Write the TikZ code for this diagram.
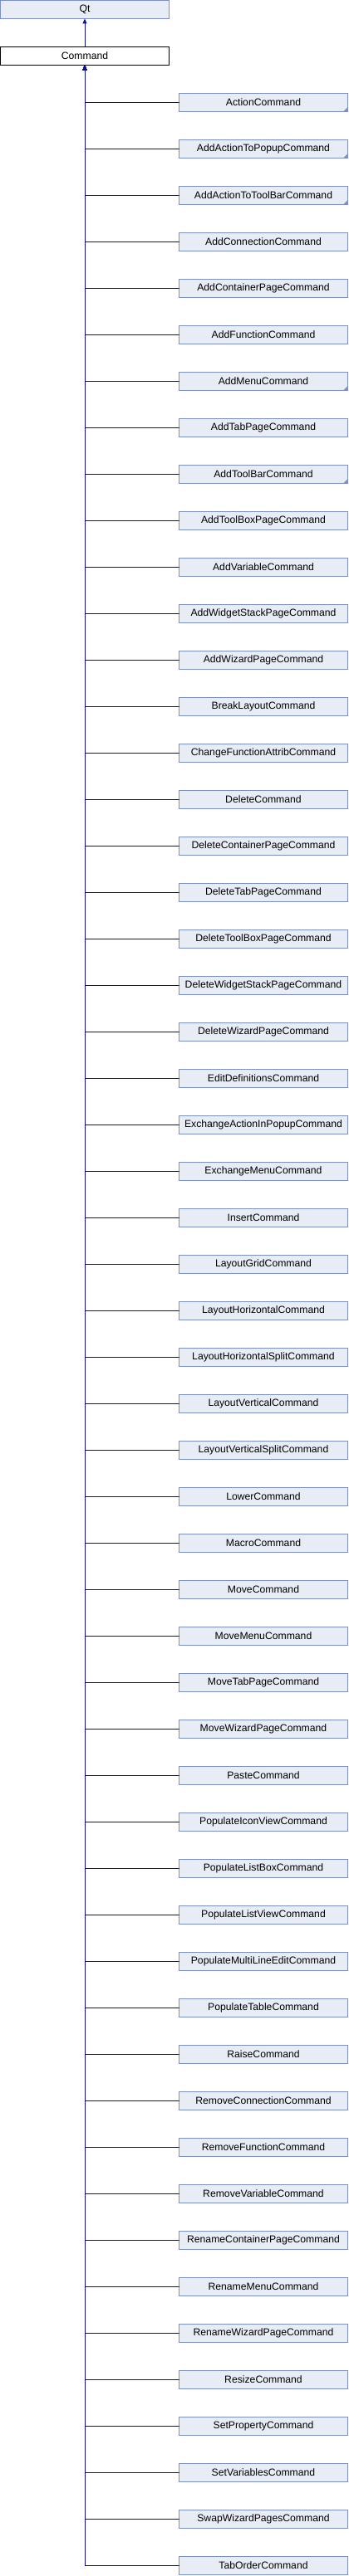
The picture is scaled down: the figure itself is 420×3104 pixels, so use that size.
\documentclass[tikz,border=0pt]{standalone}
\usepackage{fontspec}
\setmainfont{Liberation Sans}
\usetikzlibrary{arrows.meta}
\definecolor{boxfill}{HTML}{E8ECF5}
\definecolor{boxline}{HTML}{7B8FCA}
\definecolor{edgeblue}{HTML}{0E0E96}
\tikzset{
  cls/.style={draw=boxline, fill=boxfill, line width=1pt, minimum width=203pt, minimum height=22pt, inner sep=0pt, outer sep=0pt, font=\fontsize{12.2}{14}\selectfont},
  cur/.style={draw=black, fill=white, line width=1pt, minimum width=203pt, minimum height=22pt, inner sep=0pt, outer sep=0pt, font=\fontsize{12.2}{14}\selectfont},
  edge/.style={draw=edgeblue, line width=1pt, -{Triangle[length=6pt,width=5pt]}},
  fold/.style={fill=boxline, draw=none}
}
\begin{document}
\begin{tikzpicture}[x=1pt,y=1pt]
\useasboundingbox (0,0) rectangle (420,-3104);
\node[cls] (qt) at (102,-11.5) {Qt};
\node[cur] (cmd) at (102,-67.5) {Command};
\draw[edge] (cmd.north) -- (qt.south);
\foreach \n [count=\i] in {ActionCommand,AddActionToPopupCommand,AddActionToToolBarCommand,AddConnectionCommand,AddContainerPageCommand,AddFunctionCommand,AddMenuCommand,AddTabPageCommand,AddToolBarCommand,AddToolBoxPageCommand,AddVariableCommand,AddWidgetStackPageCommand,AddWizardPageCommand,BreakLayoutCommand,ChangeFunctionAttribCommand,DeleteCommand,DeleteContainerPageCommand,DeleteTabPageCommand,DeleteToolBoxPageCommand,DeleteWidgetStackPageCommand,DeleteWizardPageCommand,EditDefinitionsCommand,ExchangeActionInPopupCommand,ExchangeMenuCommand,InsertCommand,LayoutGridCommand,LayoutHorizontalCommand,LayoutHorizontalSplitCommand,LayoutVerticalCommand,LayoutVerticalSplitCommand,LowerCommand,MacroCommand,MoveCommand,MoveMenuCommand,MoveTabPageCommand,MoveWizardPageCommand,PasteCommand,PopulateIconViewCommand,PopulateListBoxCommand,PopulateListViewCommand,PopulateMultiLineEditCommand,PopulateTableCommand,RaiseCommand,RemoveConnectionCommand,RemoveFunctionCommand,RemoveVariableCommand,RenameContainerPageCommand,RenameMenuCommand,RenameWizardPageCommand,ResizeCommand,SetPropertyCommand,SetVariablesCommand,SwapWizardPagesCommand,TabOrderCommand} {
  \node[cls] (c\i) at (317,{-123.5-56*(\i-1)}) {\n};
  \draw[edge] (c\i.west) -| (cmd.south);
}
\foreach \k in {1,2,3,7,9} {
  \fill[fold] (c\k.south east) -- ++(0,5.5) -- ++(-5.5,-5.5) -- cycle;
}
\end{tikzpicture}
\end{document}
